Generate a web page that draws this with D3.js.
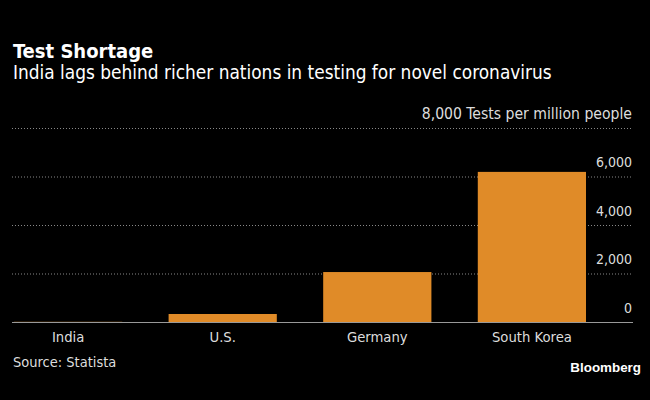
<!DOCTYPE html>
<html><head><meta charset="utf-8">
<script src="https://cdn.jsdelivr.net/npm/d3@7"></script>
<style>body{margin:0;background:#000}svg{display:block}</style>
</head><body>
<script>
const categories = ["India", "U.S.", "Germany", "South Korea"];
const values = [7, 330, 2060, 6190];
const yTicks = [0, 2000, 4000, 6000, 8000];
const unitLabel = "Tests per million people";

const W = 650, H = 400;
const svg = d3.select("body").append("svg").attr("width", W).attr("height", H)
  .style("background", "#000");
const font = "'DejaVu Sans Condensed', 'DejaVu Sans', sans-serif";

const x = d3.scaleBand().domain(categories).range([14, 586]).paddingInner(0.3).paddingOuter(0);
const y = d3.scaleLinear().domain([0, 8000]).range([322, 128]);

svg.append("text").attr("x", 13).attr("y", 58).text("Test Shortage")
  .attr("fill", "#fff").attr("font-family", font).attr("font-weight", "bold").attr("font-size", 20);
svg.append("text").attr("x", 13).attr("y", 79).text("India lags behind richer nations in testing for novel coronavirus")
  .attr("fill", "#fff").attr("font-family", font).attr("font-size", 18.9);

// gridlines
const grid = svg.append("g");
yTicks.filter(d => d > 0).forEach(t => {
  grid.append("line").attr("x1", 12).attr("x2", 633).attr("y1", y(t) + 0.5).attr("y2", y(t) + 0.5)
    .attr("stroke", "#888").attr("stroke-width", 1).attr("stroke-dasharray", "1,2");
});
// tick labels
yTicks.forEach(t => {
  const lbl = svg.append("text").attr("x", 632).attr("y", y(t) - 9.5).attr("text-anchor", "end")
    .attr("fill", "#ddd").attr("font-family", font).attr("font-size", 14);
  if (t === 8000) {
    lbl.text(d3.format(",")(t) + " " + unitLabel).attr("font-size", 15.6);
  } else {
    lbl.text(d3.format(",")(t));
  }
});

// baseline
svg.append("line").attr("x1", 12).attr("x2", 633).attr("y1", y(0) + 0.5).attr("y2", y(0) + 0.5)
  .attr("stroke", "#999").attr("stroke-width", 1);

// bars
svg.append("g").selectAll("rect").data(values).join("rect")
  .attr("x", (d, i) => x(categories[i])).attr("width", x.bandwidth())
  .attr("y", d => y(d)).attr("height", d => y(0) - y(d))
  .attr("fill", "#e08b28");

// category labels
svg.append("g").selectAll("text").data(categories).join("text")
  .attr("x", d => x(d) + x.bandwidth() / 2).attr("y", 342).attr("text-anchor", "middle")
  .attr("fill", "#ddd").attr("font-family", font).attr("font-size", 14.7).text(d => d);

svg.append("text").attr("x", 13).attr("y", 367).text("Source: Statista")
  .attr("fill", "#ddd").attr("font-family", font).attr("font-size", 14.5);
svg.append("text").attr("x", 641).attr("y", 372).attr("text-anchor", "end").text("Bloomberg")
  .attr("fill", "#fff").attr("font-family", "'Liberation Sans', Arial, sans-serif").attr("font-weight", "bold").attr("font-size", 13.4);
</script>
</body></html>
